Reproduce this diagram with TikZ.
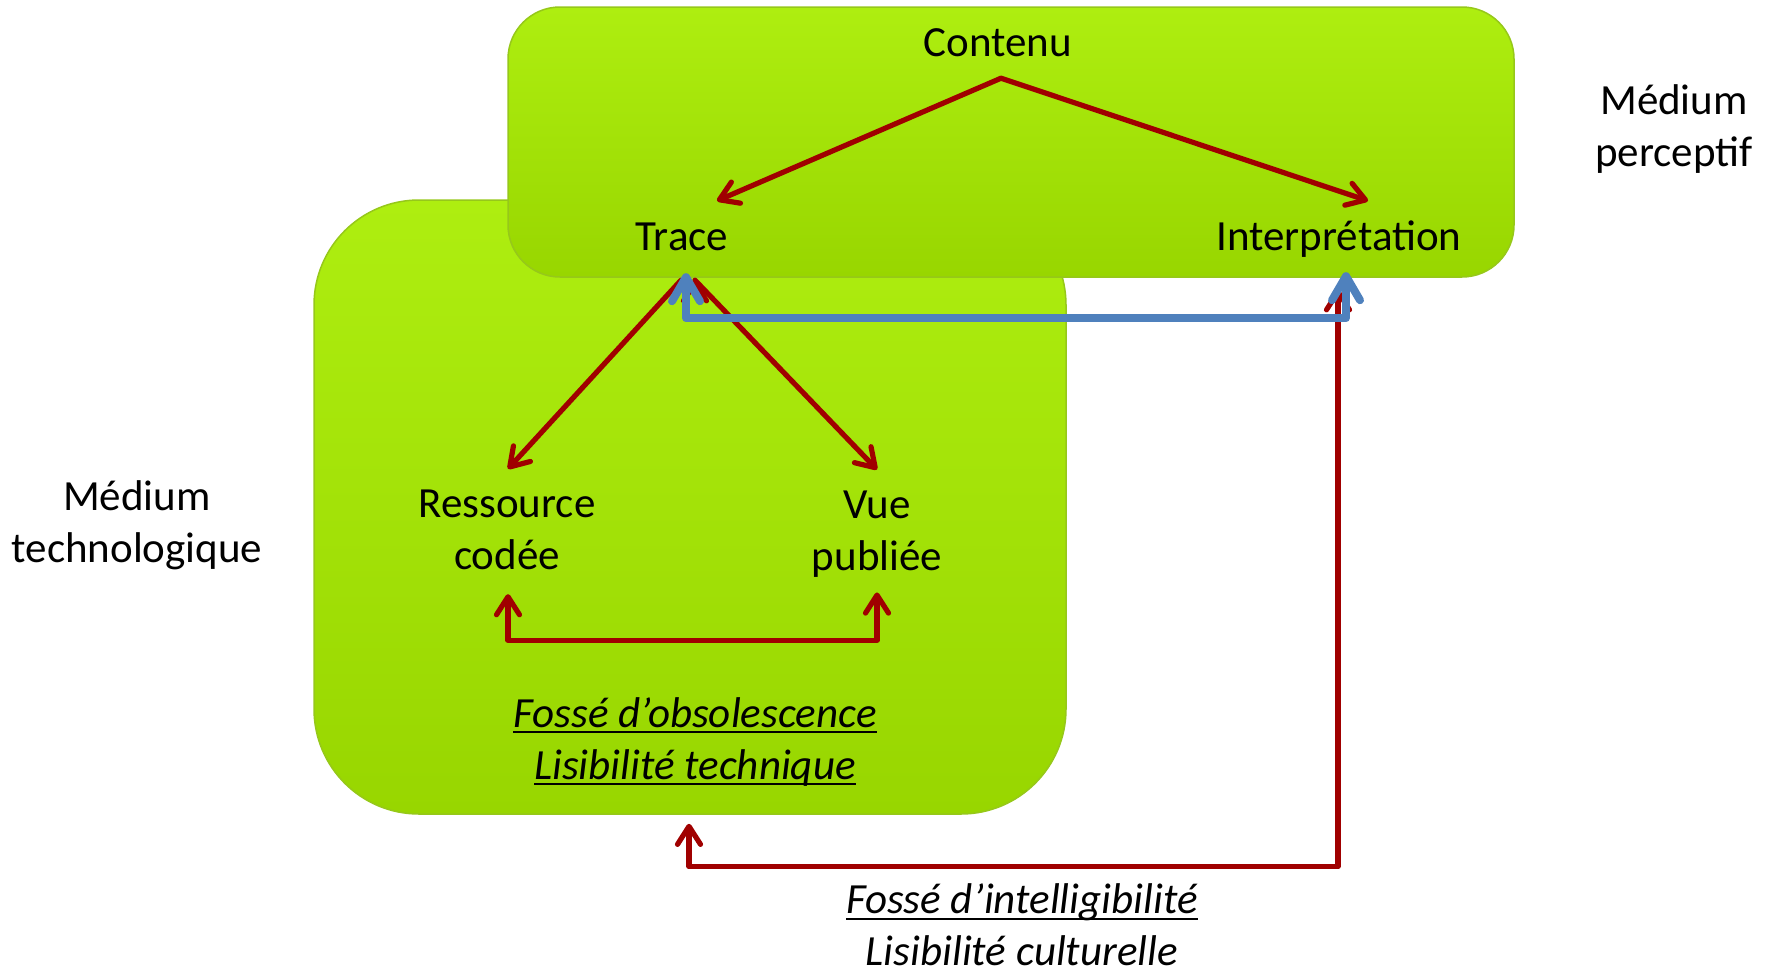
\documentclass[tikz,border=0pt]{standalone}
\usepackage{fontspec}
\setmainfont{Carlito}
\usepackage{tikz}
\usetikzlibrary{arrows.meta,calc}
\definecolor{vertclair}{RGB}{174,238,16}
\definecolor{vertfonce}{RGB}{152,214,0}
\definecolor{vertbord}{RGB}{150,200,26}
\definecolor{rouge}{RGB}{160,0,0}
\definecolor{bleu}{RGB}{79,129,189}
\newcommand{\souligne}[1]{\setbox0\hbox{#1}\rlap{\vrule height -4pt depth 6pt width \wd0}\box0}
\tikzset{every node/.style={align=center, inner sep=0pt, font=\fontsize{43}{52}\selectfont},
  >={Straight Barb[length=18pt,width=23pt,round]},
  medium/.style={draw=vertbord, line width=1.5pt, top color=vertclair, bottom color=vertfonce, rounded corners=#1},
  mot/.style={anchor=base, text height=30pt, text depth=9pt},
  fosse/.style={font=\fontsize{43}{52}\selectfont\itshape},
  rougeline/.style={draw=rouge, line width=5.2pt, line cap=round, line join=round},
  bleuline/.style={draw=bleu, line width=8pt, line cap=round, line join=round, >={Straight Barb[length=24pt,width=28pt,round]}}}

\begin{document}
\begin{tikzpicture}[x=1pt, y=-1pt]
  \useasboundingbox (0,0) rectangle (1767,975);
  % les deux mediums
  \node[medium=105pt, minimum width=752pt, minimum height=614pt] (techbox) at (690,507) {};
  \node[medium=52pt, minimum width=1006pt, minimum height=270pt] (percbox) at (1011,142) {};

  \node[mot] (contenu) at (998,56) {Contenu};
  \node[mot] (trace) at (682,250) {Trace};
  \node[mot] (interp) at (1339,250) {Interprétation};
  \node (ressource) at (507,530) {Ressource\\codée};
  \node (vue) at (877,534) {Vue\\publiée};
  \node (medperc) at (1674,129) {Médium\\perceptif};
  \node (medtech) at (137,525) {Médium\\technologique};
  \node[fosse] (obsol) at (695,742) {\souligne{Fossé d’obsolescence}\\\souligne{Lisibilité technique}};
  \node[fosse] (intell) at (1022,925) {\souligne{Fossé d’intelligibilité}\\Lisibilité culturelle};

  \path[rougeline, ->] ($(contenu.south)+(3,13)$) edge ($(trace.north)+(35,-19)$)
      ($(contenu.south)+(3,13)$) edge ($(interp.north)+(29,-19)$)
      ($(trace.south)+(-1,21)$) edge ($(ressource.north)+(1,-21)$)
      ($(trace.south)+(13,21)$) edge ($(vue.north)+(0,-21)$);
  \draw[rougeline, <->] ($(ressource.south)+(1,24)$) -- ++(0,46) -| ($(vue.south)+(0,15)$);
  \draw[rougeline, <->] ($(techbox.south)+(-1,9)$) -- ++(0,43) -| ($(interp.south)+(-1,30)$);
  \draw[bleuline, <->] ($(trace.south)+(4,14)$) -- ++(0,45) -| ($(interp.south)+(7,13)$);
\end{tikzpicture}
\end{document}
